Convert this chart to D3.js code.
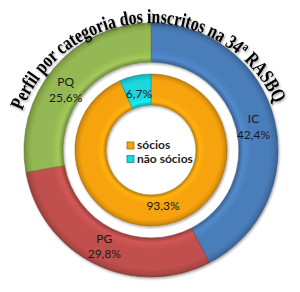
<!DOCTYPE html>
<html>
<head>
<meta charset="utf-8">
<script src="https://cdn.jsdelivr.net/npm/d3@7"></script>
<style>
  body { margin: 0; background: #fff; }
  svg text { font-family: Lato, "Open Sans", "Liberation Sans", sans-serif; }
</style>
</head>
<body>
<svg id="chart" width="300" height="292"></svg>
<script>
// outer ring: categoria dos inscritos
var categorias = ["IC", "PG", "PQ"];
var percCategorias = [42.4, 29.8, 25.6];
// inner ring: sócios / não sócios
var socios = ["sócios", "não sócios"];
var percSocios = [93.3, 6.7];
var titulo = "Perfil por categoria dos inscritos na 34ª RASBQ";

var W = 300, H = 292;
var cx = 151, cy = 150;
var outerDim = {r0: 88, r1: 127};
var innerDim = {r0: 45, r1: 76};

var corCat = d3.scaleOrdinal().domain(categorias).range(["#4a7ebb", "#c0504d", "#94b852"]);
var corSoc = d3.scaleOrdinal().domain(socios).range(["#f7a30c", "#1ad7dd"]);
var fmt = function(v) { return d3.format(".1f")(v).replace(".", ",") + "%"; };

var svg = d3.select("#chart");
var defs = svg.append("defs");

// bevel-ish shading: radial gradient over the ring thickness
function bevel(id, base, r0, r1) {
    var c = d3.color(base);
    var g = defs.append("radialGradient")
        .attr("id", id)
        .attr("gradientUnits", "userSpaceOnUse")
        .attr("cx", 0).attr("cy", 0).attr("r", r1);
    var f = r0 / r1;
    var stops = [
        [f, c.darker(0.7)],
        [f + (1 - f) * 0.12, c.brighter(0.25)],
        [f + (1 - f) * 0.3, c],
        [f + (1 - f) * 0.8, c],
        [f + (1 - f) * 0.93, c.darker(0.35)],
        [1, c.darker(0.8)]
    ];
    stops.forEach(function(s) {
        g.append("stop").attr("offset", s[0]).attr("stop-color", s[1].formatHex());
    });
}
categorias.forEach(function(d, i) { bevel("gc" + i, corCat(d), outerDim.r0, outerDim.r1); });
socios.forEach(function(d, i) { bevel("gs" + i, corSoc(d), innerDim.r0, innerDim.r1); });

var shadow = defs.append("filter").attr("id", "sh").attr("x", "-20%").attr("y", "-20%").attr("width", "140%").attr("height", "140%");
shadow.append("feDropShadow").attr("dx", 1).attr("dy", 1.5).attr("stdDeviation", 1).attr("flood-color", "#000").attr("flood-opacity", 0.35);

var g = svg.append("g").attr("transform", "translate(" + cx + "," + cy + ")");

// outer ring: percentages sum to 97,8% -> angles on a 100% scale, last slice closes the ring
var catData = categorias.map(function(d, i) { return {k: d, v: percCategorias[i], i: i}; });
var somaCat = d3.sum(percCategorias);
var pieOut = d3.pie().sort(null).value(function(d) { return d.v; })
    .endAngle(2 * Math.PI * somaCat / 100);
var catArcs = pieOut(catData);
var arcOut = d3.arc().innerRadius(outerDim.r0).outerRadius(outerDim.r1);
var arcOutLbl = d3.arc().innerRadius(92).outerRadius(119);

g.append("g").attr("filter", "url(#sh)")
    .selectAll("path")
    .data(catArcs)
    .join("path")
    .attr("d", function(d, i) {
        var e = i === catArcs.length - 1 ? Object.assign({}, d, {endAngle: 2 * Math.PI}) : d;
        return arcOut(e);
    })
    .attr("fill", function(d) { return "url(#gc" + d.data.i + ")"; })
    .attr("stroke", function(d) { return d3.color(corCat(d.data.k)).darker(1).formatHex(); })
    .attr("stroke-width", 0.6);

var lblOut = g.selectAll(".lblOut")
    .data(catArcs)
    .join("text")
    .attr("class", "lblOut")
    .attr("transform", function(d) { return "translate(" + arcOutLbl.centroid(d) + ")"; })
    .attr("text-anchor", "middle")
    .attr("font-size", 12)
    .attr("fill", "#1a1a1a");
lblOut.append("tspan").attr("x", 0).attr("dy", "-0.15em").text(function(d) { return d.data.k; });
lblOut.append("tspan").attr("x", 0).attr("dy", "1.3em").text(function(d) { return fmt(d.data.v); });

// inner ring
var socData = socios.map(function(d, i) { return {k: d, v: percSocios[i], i: i}; });
var pieIn = d3.pie().sort(null).value(function(d) { return d.v; });
var arcIn = d3.arc().innerRadius(innerDim.r0).outerRadius(innerDim.r1);
var arcInLbl = d3.arc().innerRadius(innerDim.r0 - 3).outerRadius(innerDim.r1 - 3);

g.append("g").attr("filter", "url(#sh)")
    .selectAll("path")
    .data(pieIn(socData))
    .join("path")
    .attr("d", arcIn)
    .attr("fill", function(d) { return "url(#gs" + d.data.i + ")"; })
    .attr("stroke", function(d) { return d3.color(corSoc(d.data.k)).darker(1).formatHex(); })
    .attr("stroke-width", 0.6);

g.selectAll(".lblIn")
    .data(pieIn(socData))
    .join("text")
    .attr("class", "lblIn")
    .attr("transform", function(d) { return "translate(" + arcInLbl.centroid(d) + ")"; })
    .attr("text-anchor", "middle")
    .attr("dy", "0.35em")
    .attr("font-size", 12)
    .attr("fill", "#1a1a1a")
    .text(function(d) { return fmt(d.data.v); });

// legend in the hole
var legend = g.selectAll(".legend")
    .data(socios)
    .join("g")
    .attr("class", "legend")
    .attr("transform", function(d, i) { return "translate(-24," + (-1 + i * 13.5) + ")"; });
legend.append("rect")
    .attr("x", 0).attr("y", -7)
    .attr("width", 7).attr("height", 7)
    .attr("fill", function(d) { return corSoc(d); })
    .attr("stroke", function(d) { return d3.color(corSoc(d)).darker(1.2).formatHex(); })
    .attr("stroke-width", 0.8);
legend.append("text")
    .attr("x", 10).attr("y", 0)
    .attr("font-size", 12)
    .attr("font-weight", "bold")
    .attr("fill", "#222")
    .text(function(d) { return d; });

// curved title (tall, narrow WordArt look), on its own circle a bit lower than the rings
var tc = {x: -1, y: 10, r: 137};
var a0 = -110 * Math.PI / 180, a1 = 110 * Math.PI / 180;
defs.append("path")
    .attr("id", "tpath")
    .attr("d", "M" + (tc.x + tc.r * Math.sin(a0)) + "," + (tc.y - tc.r * Math.cos(a0)) +
        " A" + tc.r + "," + tc.r + " 0 1,1 " + (tc.x + tc.r * Math.sin(a1)) + "," + (tc.y - tc.r * Math.cos(a1)));

g.append("text")
    .style("font-family", "'Liberation Serif', 'Times New Roman', serif")
    .attr("font-size", 20)
    .attr("font-weight", "bold")
    .attr("fill", "#000")
    .attr("filter", "url(#sh)")
    .append("textPath")
    .attr("href", "#tpath")
    .attr("startOffset", "49.3%")
    .attr("text-anchor", "middle")
    .attr("textLength", 322)
    .attr("lengthAdjust", "spacingAndGlyphs")
    .text(titulo);
</script>
</body>
</html>
